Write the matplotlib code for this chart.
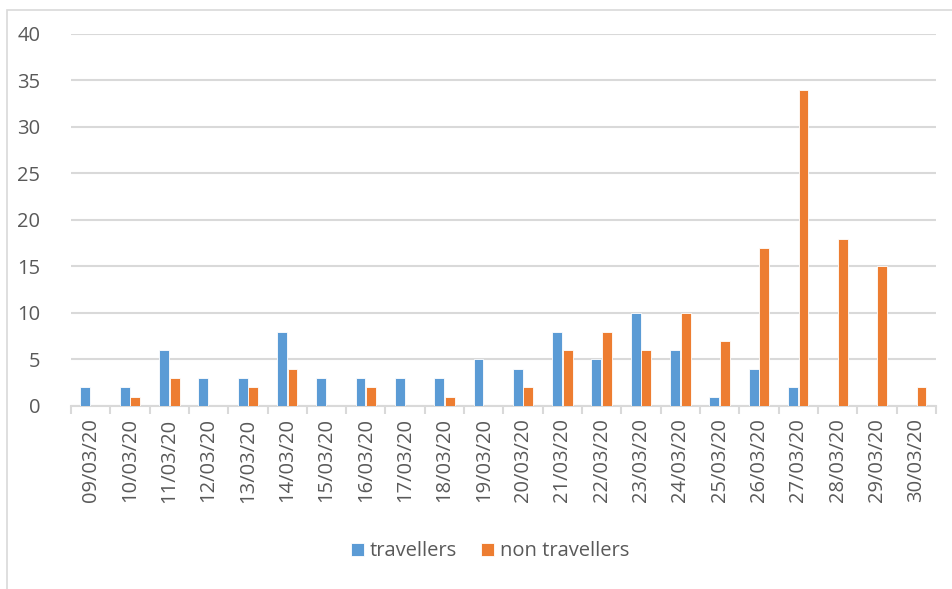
import matplotlib
matplotlib.use('Agg')

import numpy as np
import matplotlib.pyplot as plt
from matplotlib.patches import Rectangle

# 数据
dates = ['09/03/20', '10/03/20', '11/03/20', '12/03/20', '13/03/20', '14/03/20',
         '15/03/20', '16/03/20', '17/03/20', '18/03/20', '19/03/20', '20/03/20',
         '21/03/20', '22/03/20', '23/03/20', '24/03/20', '25/03/20', '26/03/20',
         '27/03/20', '28/03/20', '29/03/20', '30/03/20']
travellers = [2, 2, 6, 3, 3, 8, 3, 3, 3, 3, 5, 4, 8, 5, 10, 6, 1, 4, 2, 0, 0, 0]
non_travellers = [0, 1, 3, 0, 2, 4, 0, 2, 0, 1, 0, 2, 6, 8, 6, 10, 7, 17, 34, 18, 15, 2]

plt.rcParams['font.family'] = ['Open Sans', 'DejaVu Sans']
text_color = '#595959'
grid_color = '#d9d9d9'

fig = plt.figure(figsize=(9.52, 5.89), dpi=100)
ax = fig.add_axes([0.0746, 0.3107, 0.9084, 0.6316])

x = np.arange(len(dates))
w = 0.25
ax.bar(x - w / 2 - 0.01, travellers, w, color='#5b9bd5', edgecolor='white',
       linewidth=0.6, label='travellers', zorder=3)
ax.bar(x + w / 2 + 0.01, non_travellers, w, color='#ed7d31', edgecolor='white',
       linewidth=0.6, label='non travellers', zorder=3)

ax.set_xlim(-0.5, len(dates) - 0.5)
ax.set_ylim(0, 40)
ax.set_yticks(range(0, 41, 5))
ax.yaxis.grid(True, color=grid_color, linewidth=1.5, zorder=0)

# 坐标轴修饰
for s in ['top', 'right', 'left']:
    ax.spines[s].set_visible(False)
ax.spines['bottom'].set_color(grid_color)
ax.spines['bottom'].set_linewidth(1.5)
ax.set_xticks(x)
ax.set_xticklabels(dates, rotation=90)
ax.set_xticks(np.arange(-0.5, len(dates), 1), minor=True)
ax.tick_params(axis='x', which='major', length=0, pad=9, labelsize=14.5, labelcolor=text_color)
ax.tick_params(axis='x', which='minor', length=6, width=1.5, color=grid_color)
ax.tick_params(axis='y', length=0, pad=22, labelsize=14.5, labelcolor=text_color)

leg = fig.legend(loc='center', bbox_to_anchor=(0.515, 0.064), ncol=2, frameon=False,
                 fontsize=14.5, handlelength=0.65, handleheight=0.65, handletextpad=0.3,
                 columnspacing=1.2)
for t in leg.get_texts():
    t.set_color(text_color)

# 图表外框
fig.patches.append(Rectangle((7 / 952, -0.1), 1.2, (584 - 5) / 589 + 0.1,
                             transform=fig.transFigure, fill=False,
                             edgecolor=grid_color, linewidth=1.2))

fig.savefig('out.png', dpi=100)
